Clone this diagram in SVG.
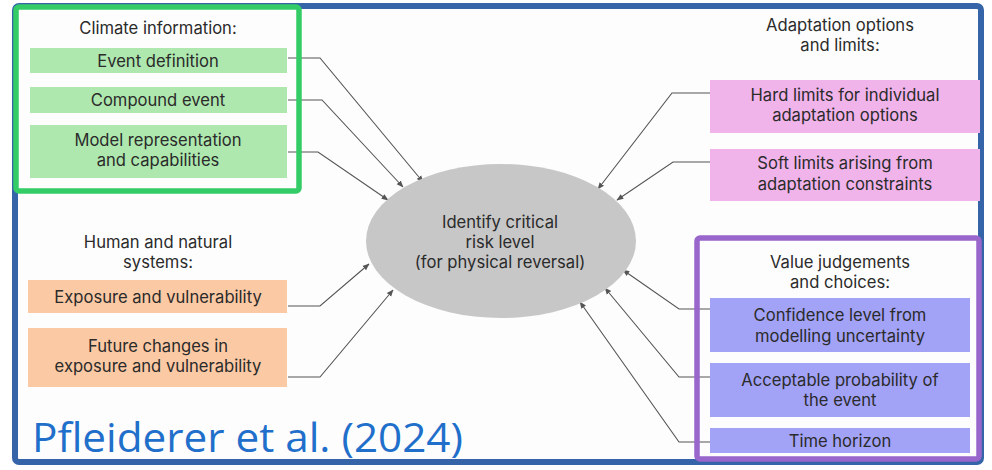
<svg xmlns="http://www.w3.org/2000/svg" width="992" height="470" viewBox="0 0 992 470">
<defs>
<marker id="arr" viewBox="0 0 10 10" refX="9" refY="5" markerWidth="7" markerHeight="7" orient="auto" markerUnits="userSpaceOnUse">
<path d="M0,1 L10,5 L0,9 z" fill="#555"/>
</marker>
<style>
.t{font-family:Inter,"Noto Sans","Liberation Sans",sans-serif;font-size:16.6px;fill:#2b2b2b;text-anchor:middle}
.h{font-family:Inter,"Noto Sans","Liberation Sans",sans-serif;font-size:16.6px;fill:#2b2b2b;text-anchor:middle}
.c{fill:none;stroke:#555;stroke-width:1.1;marker-end:url(#arr)}
.g{fill:#aee8ae}
.o{fill:#fbc9a3}
.p{fill:#f0b3ea}
.b{fill:#a2a2f7}
</style>
</defs>
<rect x="0" y="0" width="992" height="470" fill="#ffffff"/>
<rect x="15" y="6" width="966" height="456" rx="4" fill="#fdfdfd" stroke="#3565a8" stroke-width="6"/>

<g id="connectors">
<path class="c" d="M288,58 H320 L423,182"/>
<path class="c" d="M288,100 H322 L403,187"/>
<path class="c" d="M288,152 H318 L388,200"/>
<path class="c" d="M288,306 H320 L369,264"/>
<path class="c" d="M288,377 H320 L393,290"/>
<path class="c" d="M710,93 H672 L598,189"/>
<path class="c" d="M710,162 H673 L617,200"/>
<path class="c" d="M710,309 H679 L623,270"/>
<path class="c" d="M710,377 H679 L605,288"/>
<path class="c" d="M710,442 H679 L580,302"/>
</g>

<g id="climate">
<rect x="16" y="7" width="283" height="184" rx="3" fill="none" stroke="#33cc66" stroke-width="5.5"/>
<text class="h" x="158" y="34">Climate information:</text>
</g>
<g id="event-definition">
<rect class="g" x="30" y="48" width="257" height="25"/>
<text class="t" x="158" y="67">Event definition</text>
</g>
<g id="compound-event">
<rect class="g" x="30" y="87" width="257" height="26"/>
<text class="t" x="158" y="106">Compound event</text>
</g>
<g id="model-representation">
<rect class="g" x="30" y="125" width="257" height="53"/>
<text class="t" x="158" y="146">Model representation</text>
<text class="t" x="158" y="166">and capabilities</text>
</g>

<g id="human-natural">
<text class="h" x="158" y="248">Human and natural</text>
<text class="h" x="158" y="268">systems:</text>
</g>
<g id="exposure">
<rect class="o" x="28" y="280" width="259" height="33"/>
<text class="t" x="158" y="303">Exposure and vulnerability</text>
</g>
<g id="future-changes">
<rect class="o" x="28" y="328" width="259" height="59"/>
<text class="t" x="158" y="352">Future changes in</text>
<text class="t" x="158" y="372">exposure and vulnerability</text>
</g>

<g id="center">
<ellipse cx="501" cy="241" rx="135" ry="77" fill="#c7c7c7"/>
<text class="t" x="500" y="228">Identify critical</text>
<text class="t" x="500" y="248">risk level</text>
<text class="t" x="500" y="268">(for physical reversal)</text>
</g>

<g id="adaptation">
<text class="h" x="840" y="31">Adaptation options</text>
<text class="h" x="840" y="51">and limits:</text>
</g>
<g id="hard-limits">
<rect class="p" x="710" y="80" width="270" height="53"/>
<text class="t" x="845" y="101">Hard limits for individual</text>
<text class="t" x="845" y="121">adaptation options</text>
</g>
<g id="soft-limits">
<rect class="p" x="710" y="149" width="270" height="52"/>
<text class="t" x="845" y="169">Soft limits arising from</text>
<text class="t" x="845" y="190">adaptation constraints</text>
</g>

<g id="value-judgements">
<rect x="697" y="238" width="282" height="221" rx="3" fill="none" stroke="#9966cc" stroke-width="5.5"/>
<text class="h" x="840" y="268">Value judgements</text>
<text class="h" x="840" y="288">and choices:</text>
</g>
<g id="confidence">
<rect class="b" x="710" y="298" width="260" height="54"/>
<text class="t" x="840" y="321">Confidence level from</text>
<text class="t" x="840" y="342">modelling uncertainty</text>
</g>
<g id="acceptable">
<rect class="b" x="710" y="363" width="260" height="54"/>
<text class="t" x="840" y="386">Acceptable probability of</text>
<text class="t" x="840" y="406">the event</text>
</g>
<g id="time-horizon">
<rect class="b" x="710" y="428" width="260" height="25"/>
<text class="t" x="840" y="447">Time horizon</text>
</g>

<text x="32" y="452" font-family="'Open Sans','Noto Sans',sans-serif" font-size="40" fill="#1f6fcb" textLength="431" lengthAdjust="spacingAndGlyphs">Pfleiderer et al. (2024)</text>
</svg>
